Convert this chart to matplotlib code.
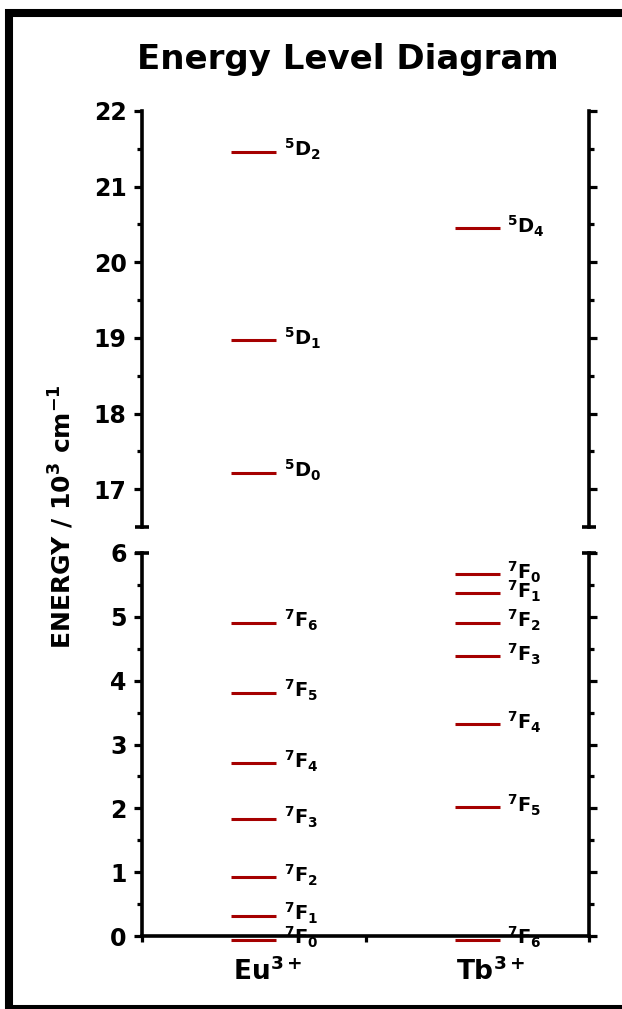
import numpy as np
import matplotlib
matplotlib.use('Agg')
import matplotlib.pyplot as plt
from matplotlib.patches import Rectangle
from matplotlib.ticker import FixedLocator

plt.rcParams['font.family'] = 'DejaVu Sans'
plt.rcParams['font.weight'] = 'bold'
plt.rcParams['mathtext.default'] = 'regular'

# data (10^3 cm^-1)
ions = ['Eu$^{3+}$', 'Tb$^{3+}$']
ion_x = [0.5, 1.5]
eu_terms = ['$^5$D$_2$', '$^5$D$_1$', '$^5$D$_0$', '$^7$F$_6$', '$^7$F$_5$',
            '$^7$F$_4$', '$^7$F$_3$', '$^7$F$_2$', '$^7$F$_1$', '$^7$F$_0$']
eu_energy = [21.46, 18.97, 17.22, 4.91, 3.81, 2.71, 1.83, 0.92, 0.32, -0.06]
tb_terms = ['$^5$D$_4$', '$^7$F$_0$', '$^7$F$_1$', '$^7$F$_2$', '$^7$F$_3$',
            '$^7$F$_4$', '$^7$F$_5$', '$^7$F$_6$']
tb_energy = [20.45, 5.67, 5.37, 4.91, 4.38, 3.32, 2.02, -0.06]

upper_ticks = [17, 18, 19, 20, 21, 22]
lower_ticks = [0, 1, 2, 3, 4, 5, 6]

W, H = 622, 1009
fig = plt.figure(figsize=(W / 100, H / 100), dpi=100)

left, right = 142 / W, 589 / W
ax_up = fig.add_axes([left, 1 - 527 / H, right - left, (527 - 111) / H])
ax_lo = fig.add_axes([left, 1 - 936 / H, right - left, (936 - 553) / H])

lw = 2.6
for ax in (ax_up, ax_lo):
    ax.set_xlim(0, 2)
    for s in ax.spines.values():
        s.set_linewidth(lw)
    ax.spines['top'].set_visible(False)
    ax.tick_params(axis='y', which='both', direction='out', left=True, right=True,
                   width=2.3, labelsize=17, pad=5)
    ax.tick_params(axis='y', which='major', length=6)
    ax.tick_params(axis='y', which='minor', length=3.5)

# upper part
ax_up.set_ylim(16.5, 22)
ax_up.spines['bottom'].set_visible(False)
ax_up.yaxis.set_major_locator(FixedLocator(upper_ticks))
ax_up.yaxis.set_minor_locator(FixedLocator(np.array(upper_ticks[:-1]) + 0.5))
ax_up.set_xticks([])

# lower part
ax_lo.set_ylim(0, 6)
ax_lo.yaxis.set_major_locator(FixedLocator(lower_ticks))
ax_lo.yaxis.set_minor_locator(FixedLocator(np.array(lower_ticks[:-1]) + 0.5))
ax_lo.set_xticks([0, 1, 2])
ax_lo.set_xticklabels([])
ax_lo.tick_params(axis='x', direction='out', length=4.5, width=2.3)

# caps at the axis break
ax_up.plot([0, 1], [0, 0], transform=ax_up.transAxes, ls='none', marker='_',
           ms=10, mew=lw, color='k', clip_on=False)
ax_lo.plot([0, 1], [1, 1], transform=ax_lo.transAxes, ls='none', marker='_',
           ms=10, mew=lw, color='k', clip_on=False)

red = '#a50000'
for x, terms, energy in [(ion_x[0], eu_terms, eu_energy), (ion_x[1], tb_terms, tb_energy)]:
    for t, e in zip(terms, energy):
        ax = ax_up if e > 10 else ax_lo
        ax.hlines(e, x - 0.1, x + 0.1, color=red, lw=2.2, clip_on=False, zorder=1)
        ax.annotate(t, (x + 0.135, e), xytext=(0, 1.5), textcoords='offset points',
                    ha='left', va='center', fontsize=14, annotation_clip=False)

for x, name in zip(ion_x, ions):
    ax_lo.text(x - 0.095, -0.69, name, ha='left', va='baseline', fontsize=19,
               clip_on=False)

fig.text(0.5595, 1 - 69 / H, 'Energy Level Diagram', ha='center', va='baseline',
         fontsize=24.5)
fig.text(61 / W, 1 - 517 / H, 'ENERGY / 10$^3$ cm$^{-1}$', rotation=90,
         ha='center', va='center', fontsize=18)

# outer frame (right edge falls outside the picture)
fig.add_artist(Rectangle((9 / W, 0), 1.0, 1 - 13 / H, transform=fig.transFigure,
                         fill=False, lw=5.8, ec='black'))

fig.savefig('out.png', dpi=100)
